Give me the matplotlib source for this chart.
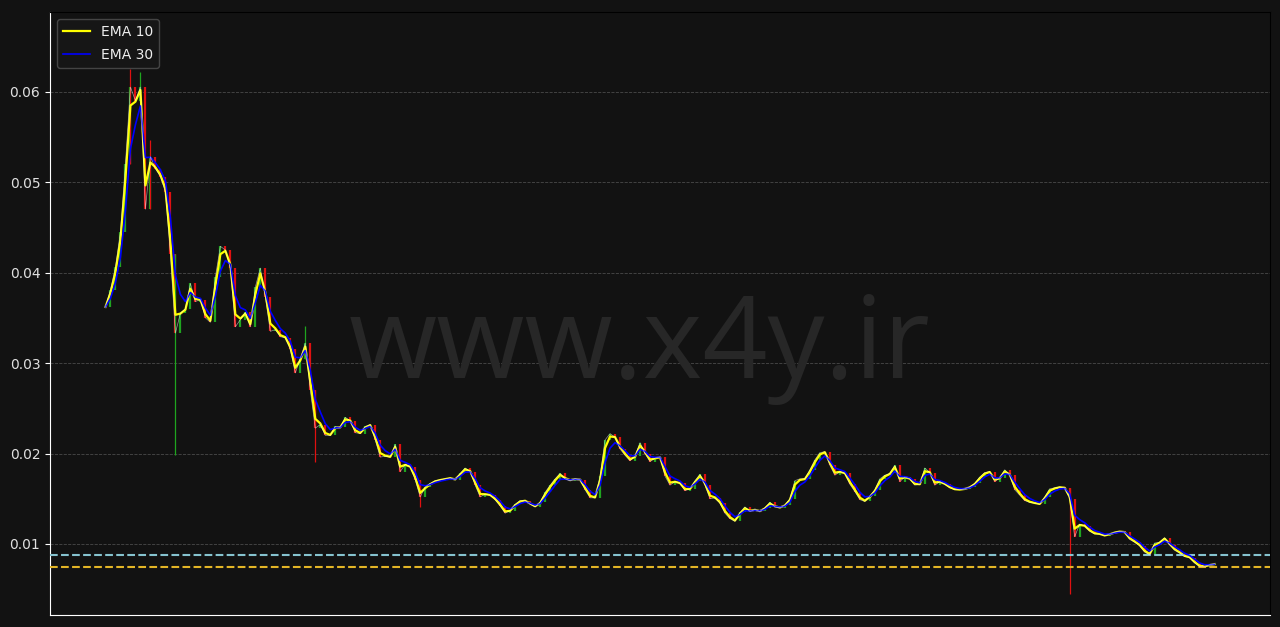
import numpy as np
import pandas as pd
import matplotlib
matplotlib.use('Agg')
import matplotlib.pyplot as plt

# closing prices, one value per group of candles (left to right)
closes = [
    0.0362, 0.0381, 0.0406, 0.0445, 0.0520, 0.0605, 0.0590, 0.0605, 0.0470, 0.0528,
    0.0515, 0.0506, 0.0489, 0.0420, 0.0333, 0.0355, 0.0360, 0.0388, 0.0368, 0.0370,
    0.0350, 0.0345, 0.0395, 0.0429, 0.0425, 0.0405, 0.0340, 0.0348, 0.0356, 0.0340,
    0.0384, 0.0405, 0.0373, 0.0335, 0.0337, 0.0329, 0.0328, 0.0315, 0.0289, 0.0305,
    0.0322, 0.0270, 0.0228, 0.0232, 0.0220, 0.0220, 0.0230, 0.0229, 0.0240, 0.0236,
    0.0223, 0.0222, 0.0230, 0.0232, 0.0215, 0.0196, 0.0197, 0.0196, 0.0210, 0.0180,
    0.0188, 0.0185, 0.0171, 0.0152, 0.0163, 0.0167, 0.0170, 0.0171, 0.0172, 0.0173,
    0.0171, 0.0178, 0.0184, 0.0180, 0.0165, 0.0152, 0.0155, 0.0154, 0.0149, 0.0142,
    0.0134, 0.0137, 0.0144, 0.0148, 0.0148, 0.0144, 0.0141, 0.0146, 0.0157, 0.0165,
    0.0172, 0.0178, 0.0172, 0.0170, 0.0172, 0.0171, 0.0160, 0.0151, 0.0151, 0.0175,
    0.0215, 0.0222, 0.0218, 0.0205, 0.0198, 0.0192, 0.0197, 0.0212, 0.0200, 0.0191,
    0.0195, 0.0196, 0.0175, 0.0165, 0.0169, 0.0167, 0.0159, 0.0161, 0.0170, 0.0177,
    0.0165, 0.0150, 0.0151, 0.0145, 0.0134, 0.0128, 0.0125, 0.0135, 0.0141, 0.0136,
    0.0138, 0.0136, 0.0140, 0.0146, 0.0141, 0.0140, 0.0143, 0.0150, 0.0170, 0.0172,
    0.0172, 0.0182, 0.0193, 0.0201, 0.0202, 0.0187, 0.0176, 0.0180, 0.0178, 0.0166,
    0.0158, 0.0149, 0.0147, 0.0153, 0.0160, 0.0172, 0.0176, 0.0178, 0.0187, 0.0169,
    0.0174, 0.0172, 0.0165, 0.0166, 0.0184, 0.0179, 0.0165, 0.0169, 0.0166, 0.0162,
    0.0160, 0.0160, 0.0161, 0.0163, 0.0167, 0.0174, 0.0179, 0.0180, 0.0169, 0.0173,
    0.0182, 0.0176, 0.0160, 0.0154, 0.0148, 0.0146, 0.0145, 0.0144, 0.0152, 0.0161,
    0.0162, 0.0163, 0.0162, 0.0150, 0.0108, 0.0122, 0.0120, 0.0114, 0.0111, 0.0111,
    0.0109, 0.0111, 0.0113, 0.0114, 0.0113, 0.0105, 0.0102, 0.0098, 0.0091, 0.0088,
    0.0101, 0.0102, 0.0107, 0.0099, 0.0093, 0.0090, 0.0086, 0.0085, 0.0079, 0.0075,
    0.0075, 0.0077, 0.0078,
]

# long wicks that stick out of the line (candle index, extreme price, wick colour)
spike_idx = [5, 7, 9, 14, 40, 42, 63, 193]
spike_val = [0.0625, 0.0622, 0.0547, 0.0198, 0.0341, 0.0191, 0.0141, 0.0045]
spike_col = ['#e01010', '#1fa51f', '#e01010', '#1fa51f', '#1fa51f', '#e01010', '#e01010', '#e01010']

support_levels = [0.00878, 0.00746]
support_colors = ['#86c3cf', '#e3b526']

ema_labels = ['EMA 10', 'EMA 30']
# one point here stands for many candles, so the spans are scaled down
ema_spans = [1.5, 3]

bg = '#121212'
close = pd.Series(closes)
opens = close.shift(1).fillna(close.iloc[0])
x = np.arange(len(close))

body_hi = np.maximum(opens, close)
body_lo = np.minimum(opens, close)
up = close >= opens
colors = np.where(up, '#1fa51f', '#e01010')

fig = plt.figure(figsize=(12.8, 6.27), dpi=100, facecolor=bg)
ax = fig.add_axes([50/1280, 12/627, 1220/1280, 603/627], facecolor=bg)

fig.text(0.5, 1 - 378/627, 'www.x4y.ir', family='Open Sans', fontsize=82,
         color='#272727', ha='center', va='baseline', zorder=0)

ax.vlines(x, body_lo, body_hi, colors=colors, linewidth=1.6, zorder=2)
for i, v, c in zip(spike_idx, spike_val, spike_col):
    lo = min(v, body_lo[i])
    hi = max(v, body_hi[i])
    ax.vlines(x[i], lo, hi, colors=c, linewidth=0.9, zorder=2)

ema10 = close.ewm(span=ema_spans[0], adjust=False).mean()
ema30 = close.ewm(span=ema_spans[1], adjust=False).mean()
ax.plot(x, ema10, color='yellow', linewidth=1.6, label=ema_labels[0], zorder=3)
ax.plot(x, ema30, color='blue', linewidth=1.2, label=ema_labels[1], zorder=4)
ax.plot(x, close, color='white', linewidth=0.5, alpha=0.55, zorder=5)

for lvl, c in zip(support_levels, support_colors):
    ax.axhline(lvl, color=c, linestyle='--', linewidth=1.5, zorder=3)

ax.set_ylim(0.00215, 0.0688)
ax.set_xticks([])
ax.set_yticks([0.01, 0.02, 0.03, 0.04, 0.05, 0.06])
ax.tick_params(axis='y', colors='white', labelcolor='#e0e0e0', labelsize=10)
ax.yaxis.grid(True, color='#4a4a4a', linestyle='--', linewidth=0.6)
ax.set_axisbelow(True)
for side in ['left', 'bottom']:
    ax.spines[side].set_color('white')
for side in ['top', 'right']:
    ax.spines[side].set_color('black')

leg = ax.legend(loc='upper left', facecolor='#161616', edgecolor='#444444',
                labelcolor='#eeeeee', fontsize=10, labelspacing=0.7)
leg.get_frame().set_alpha(1.0)

fig.savefig('out.png', dpi=100, facecolor=bg)
